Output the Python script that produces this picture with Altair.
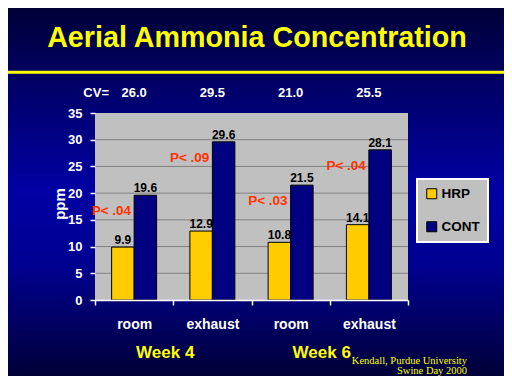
import altair as alt
import pandas as pd

# ---------------- data ----------------
categories = ["Week 4|room", "Week 4|exhaust", "Week 6|room", "Week 6|exhaust"]
series = ["HRP", "CONT"]
hrp = [9.9, 12.9, 10.8, 14.1]
cont = [19.6, 29.6, 21.5, 28.1]
cv_values = ["26.0", "29.5", "21.0", "25.5"]
p_labels = ["P< .04", "P< .09", "P< .03", "P< .04"]
weeks = ["Week 4", "Week 6"]
week_anchor = ["Week 4|exhaust", "Week 6|exhaust"]
y_ticks = [0, 5, 10, 15, 20, 25, 30, 35]
grid_vals = [5, 10, 15, 20, 25, 30]
title_text = "Aerial Ammonia Concentration"
y_title = "ppm"
footer_lines = ["Kendall, Purdue University", "Swine Day 2000"]

# ---------------- layout ----------------
W, H = 313, 187          # plot area
LEFT, TOP = 87, 105      # plot origin inside canvas
CW, CH = 496, 368        # canvas size
FONT = "Liberation Sans"
YELLOW = "#ffff00"

bars_df = pd.DataFrame(
    [{"cat": c, "series": "HRP", "val": v} for c, v in zip(categories, hrp)]
    + [{"cat": c, "series": "CONT", "val": v} for c, v in zip(categories, cont)]
)
p_df = pd.DataFrame({"cat": categories, "val": cont, "p": p_labels})
cv_df = pd.DataFrame({"cat": categories, "cv": cv_values})
week_df = pd.DataFrame({"cat": week_anchor, "week": weeks})
grid_df = pd.DataFrame({"val": grid_vals})
one = pd.DataFrame({"a": [0]})

x_scale = alt.Scale(domain=categories, paddingInner=0, paddingOuter=0)
x_axis = alt.Axis(
    title=None, labelExpr="split(datum.label,'|')[1]", labelAngle=0,
    labelColor="white", labelFont=FONT, labelFontWeight="bold", labelFontSize=14,
    labelPadding=12, domainColor="white", domainWidth=1.5, tickColor="white",
    tickSize=5, tickWidth=1.5, tickBand="extent", zindex=1,
)
x_enc = alt.X("cat:N", sort=categories, scale=x_scale, axis=x_axis)
y_scale = alt.Scale(domain=[0, 35], nice=False, zero=True)
y_axis = alt.Axis(
    values=y_ticks, title=None,
    labelColor="white", labelFont=FONT, labelFontWeight="bold", labelFontSize=13,
    labelPadding=8, tickColor="white", tickSize=5, tickWidth=1.5,
    domain=False, grid=False, zindex=1,
)
y_enc = alt.Y("val:Q", scale=y_scale, axis=y_axis)

bg = alt.Chart(one).mark_rect(
    color=alt.LinearGradient(
        gradient="linear", x1=0, x2=0, y1=0, y2=1,
        stops=[
            alt.GradientStop(color="#000038", offset=0),
            alt.GradientStop(color="#000070", offset=0.25),
            alt.GradientStop(color="#0000a4", offset=0.5),
            alt.GradientStop(color="#000090", offset=0.7),
            alt.GradientStop(color="#000038", offset=1),
        ],
    )
).encode(
    x=alt.value(-LEFT), x2=alt.value(CW - LEFT),
    y=alt.value(-TOP), y2=alt.value(CH - TOP),
)

plot_bg = alt.Chart(one).mark_rect(color="#c0c0c0").encode(
    x=alt.value(0), x2=alt.value(W), y=alt.value(0), y2=alt.value(H)
)

grid = alt.Chart(grid_df).mark_rule(color="#808080", strokeWidth=1).encode(
    y=y_enc
)

xoff = alt.XOffset("series:N", sort=series,
                   scale=alt.Scale(domain=series, paddingInner=0, paddingOuter=0.74))

bars = alt.Chart(bars_df).mark_bar(stroke="black", strokeWidth=1).encode(
    x=x_enc,
    xOffset=xoff,
    y=y_enc,
    color=alt.Color(
        "series:N",
        scale=alt.Scale(domain=series, range=["#ffcc00", "#000080"]),
        legend=alt.Legend(
            title=None, orient="none", legendX=322, legendY=66,
            fillColor="#c0c0c0", strokeColor="white", padding=8,
            symbolType="square", symbolSize=100, symbolStrokeColor="black",
            symbolStrokeWidth=1, labelFont=FONT, labelFontSize=13.5,
            labelFontWeight="bold", labelColor="black", rowPadding=18, labelOffset=3,
        ),
    ),
)

values = alt.Chart(bars_df).mark_text(
    font=FONT, fontSize=12, fontWeight="bold", color="black",
    baseline="alphabetic", dy=-3,
).encode(
    x=x_enc, xOffset=xoff, y=y_enc,
    text=alt.Text("val:Q", format=".1f"),
)

pvals = alt.Chart(p_df).mark_text(
    font=FONT, fontSize=13.5, fontWeight="bold", color="#ff3300",
    align="right", baseline="middle", dx=-3, dy=16,
).encode(x=x_enc, y=y_enc, text="p:N")

cv = alt.Chart(cv_df).mark_text(
    font=FONT, fontSize=13, fontWeight="bold", color="white", baseline="alphabetic",
).encode(x=x_enc, y=alt.value(-16), text="cv:N")

cv_lbl = alt.Chart(one).mark_text(
    text="CV=", font=FONT, fontSize=13, fontWeight="bold", color="white",
    align="right", baseline="alphabetic",
).encode(x=alt.value(14), y=alt.value(-16))

ytitle = alt.Chart(one).mark_text(
    text=y_title, font=FONT, fontSize=15, fontWeight="bold", color="white",
    align="center", baseline="middle", angle=270,
).encode(x=alt.value(-35), y=alt.value(91))

title = alt.Chart(one).mark_text(
    text=title_text, font=FONT, fontSize=28.7, fontWeight="bold", color=YELLOW,
    align="center", baseline="alphabetic",
).encode(x=alt.value(162), y=alt.value(-66))

line = alt.Chart(one).mark_rule(color=YELLOW, strokeWidth=3).encode(
    x=alt.value(-LEFT), x2=alt.value(CW - LEFT), y=alt.value(-40.8)
)

week = alt.Chart(week_df).mark_text(
    font=FONT, fontSize=17, fontWeight="bold", color=YELLOW,
    align="center", baseline="alphabetic", dx=-8,
).encode(
    x=alt.X("cat:N", sort=categories, scale=x_scale, axis=x_axis, bandPosition=0),
    y=alt.value(245), text="week:N",
)

footer = alt.Chart(one).mark_text(
    text=footer_lines, font="Liberation Serif", fontSize=10.5, color=YELLOW,
    align="right", baseline="alphabetic", lineHeight=10,
).encode(x=alt.value(372), y=alt.value(250.5))

chart = alt.layer(
    bg, plot_bg, grid, bars, values, pvals, cv, cv_lbl, ytitle, title, line, week, footer
).properties(
    width=W, height=H,
    autosize=alt.AutoSizeParams(type="none"),
    padding={"left": LEFT, "top": TOP, "right": CW - LEFT - W, "bottom": CH - TOP - H},
    background="#000040",
).configure_view(stroke=None).configure_legend(strokeWidth=2)

chart.save("out.html", embed_options={"renderer": "svg", "actions": False})
